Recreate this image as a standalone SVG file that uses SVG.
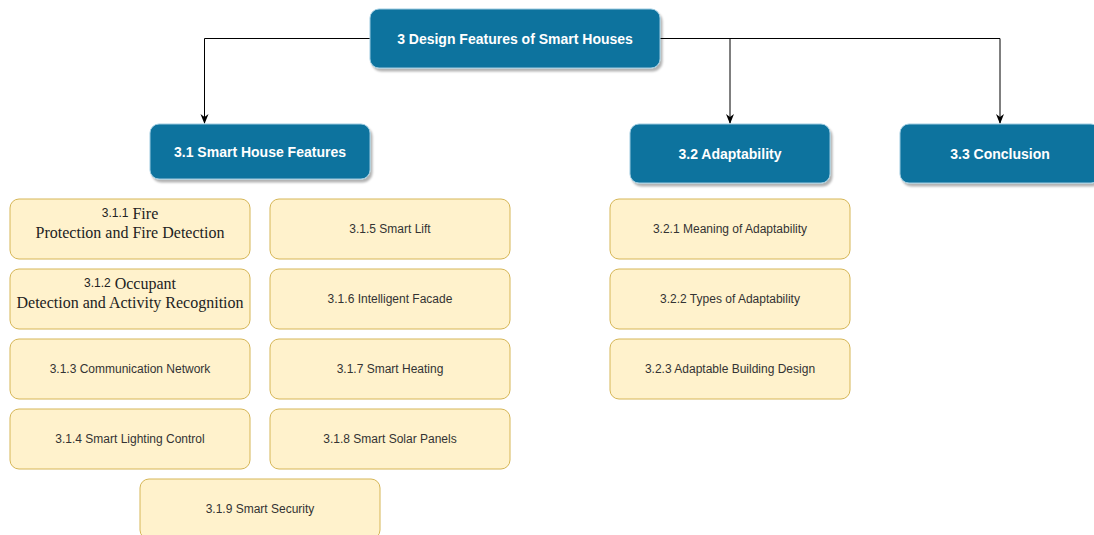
<svg xmlns="http://www.w3.org/2000/svg" width="1094" height="535" viewBox="0 0 1094 535">
<defs>
<filter id="sh" x="-10%" y="-10%" width="130%" height="140%">
<feDropShadow dx="2" dy="3" stdDeviation="1.2" flood-color="#000" flood-opacity="0.3"/>
</filter>
<marker id="arr" viewBox="0 0 10 10" refX="9" refY="5" markerWidth="10" markerHeight="10" markerUnits="userSpaceOnUse" orient="auto">
<path d="M0,1 L10,5 L0,9 L3,5 Z" fill="#000"/>
</marker>
</defs>
<style>
.blue rect{fill:#10739e;stroke:#9ccbe0;stroke-width:1;filter:url(#sh)}
.blue text{fill:#fff;font-family:"Liberation Sans",Arial,sans-serif;font-weight:bold;font-size:14px;text-anchor:middle;dominant-baseline:central}
.yel rect{fill:#fff2cc;stroke:#d6b656;stroke-width:1}
.yel text{fill:#333;font-family:"Liberation Sans",Arial,sans-serif;font-size:12px;text-anchor:middle;dominant-baseline:central}
.yel text.serif{font-family:"Liberation Serif","Times New Roman",serif;font-size:16px;fill:#222}
.yel text .s{font-family:"Liberation Sans",Arial,sans-serif;font-size:12px}
.conn path{fill:none;stroke:#000;stroke-width:1;marker-end:url(#arr)}
</style>
<rect width="1094" height="535" fill="#fff"/>
<g class="conn" id="connectors">
<path d="M370,38.5 H204.5 V123"/>
<path d="M660,38.5 H730 V123"/>
<path d="M730,38.5 H1000 V123"/>
</g>
<g class="blue" id="n3"><rect x="370" y="9" width="290" height="59" rx="9"/><text x="515" y="39">3 Design Features of Smart Houses</text></g>
<g class="blue" id="n31"><rect x="150" y="124" width="220" height="55" rx="9"/><text x="260" y="152">3.1 Smart House Features</text></g>
<g class="blue" id="n32"><rect x="630" y="124" width="200" height="59" rx="9"/><text x="730" y="154">3.2 Adaptability</text></g>
<g class="blue" id="n33"><rect x="900" y="124" width="200" height="59" rx="9"/><text x="1000" y="154">3.3 Conclusion</text></g>
<g class="yel" id="n311"><rect x="10" y="199" width="240" height="60" rx="9"/><text class="serif" x="130" y="213"><tspan class="s">3.1.1</tspan> Fire</text><text class="serif" x="130" y="232">Protection and Fire Detection</text></g>
<g class="yel" id="n312"><rect x="10" y="269" width="240" height="60" rx="9"/><text class="serif" x="130" y="283"><tspan class="s">3.1.2</tspan> Occupant</text><text class="serif" x="130" y="302">Detection and Activity Recognition</text></g>
<g class="yel" id="n313"><rect x="10" y="339" width="240" height="60" rx="9"/><text x="130" y="369">3.1.3 Communication Network</text></g>
<g class="yel" id="n314"><rect x="10" y="409" width="240" height="60" rx="9"/><text x="130" y="439">3.1.4 Smart Lighting Control</text></g>
<g class="yel" id="n315"><rect x="270" y="199" width="240" height="60" rx="9"/><text x="390" y="229">3.1.5 Smart Lift</text></g>
<g class="yel" id="n316"><rect x="270" y="269" width="240" height="60" rx="9"/><text x="390" y="299">3.1.6 Intelligent Facade</text></g>
<g class="yel" id="n317"><rect x="270" y="339" width="240" height="60" rx="9"/><text x="390" y="369">3.1.7 Smart Heating</text></g>
<g class="yel" id="n318"><rect x="270" y="409" width="240" height="60" rx="9"/><text x="390" y="439">3.1.8 Smart Solar Panels</text></g>
<g class="yel" id="n319"><rect x="140" y="479" width="240" height="60" rx="9"/><text x="260" y="509">3.1.9 Smart Security</text></g>
<g class="yel" id="n321"><rect x="610" y="199" width="240" height="60" rx="9"/><text x="730" y="229">3.2.1 Meaning of Adaptability</text></g>
<g class="yel" id="n322"><rect x="610" y="269" width="240" height="60" rx="9"/><text x="730" y="299">3.2.2 Types of Adaptability</text></g>
<g class="yel" id="n323"><rect x="610" y="339" width="240" height="60" rx="9"/><text x="730" y="369">3.2.3 Adaptable Building Design</text></g>
</svg>
